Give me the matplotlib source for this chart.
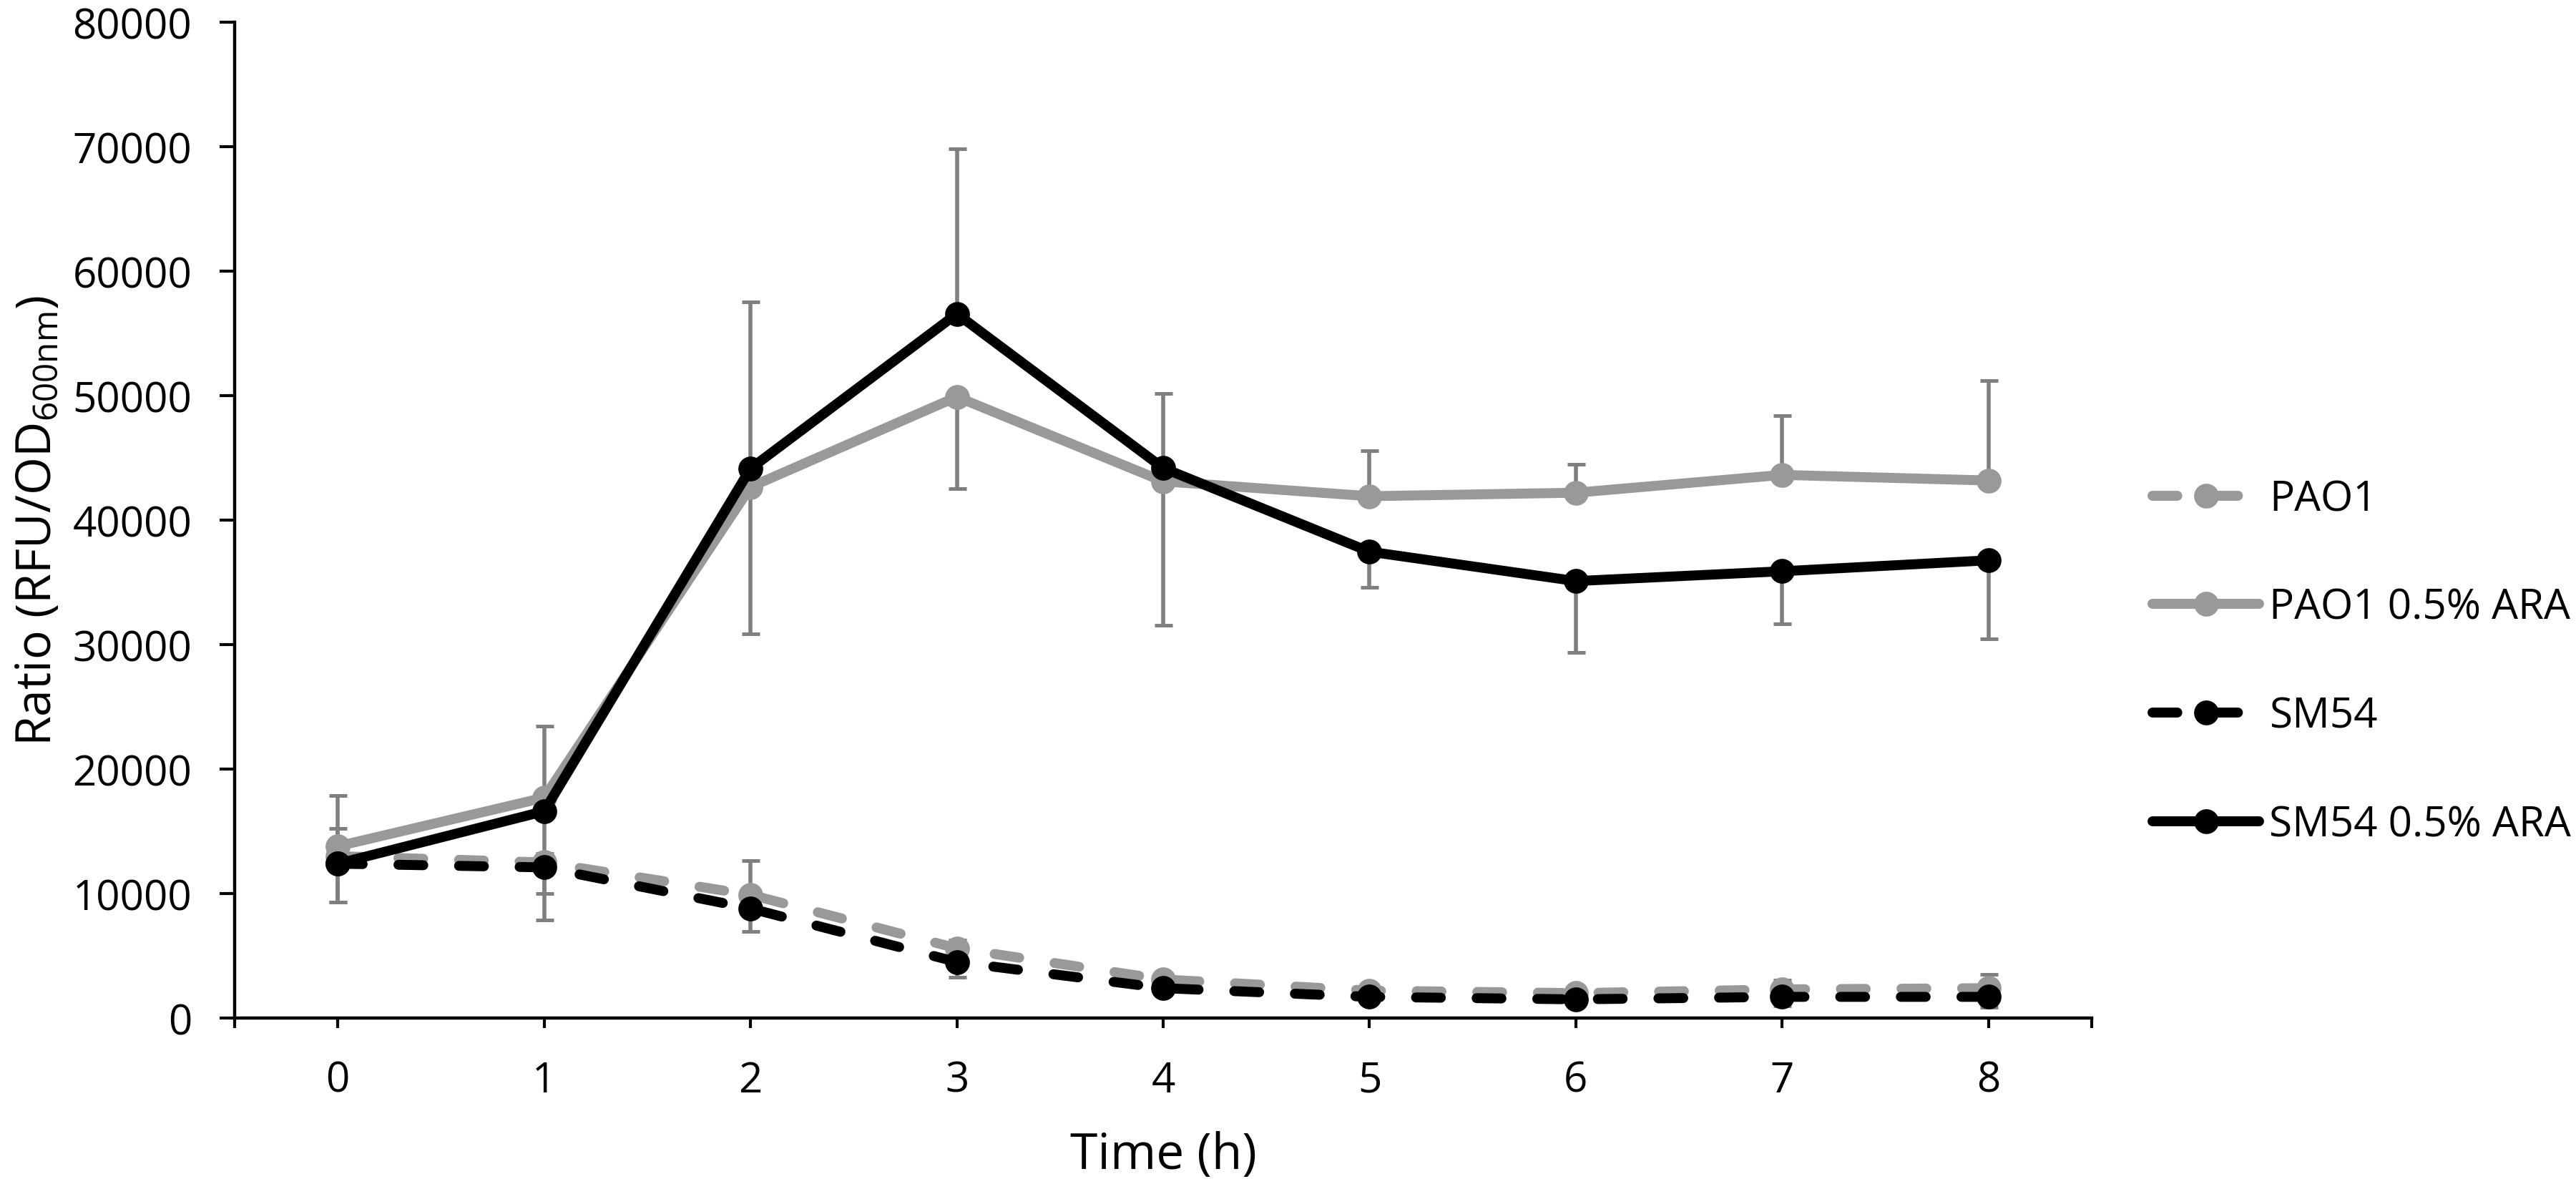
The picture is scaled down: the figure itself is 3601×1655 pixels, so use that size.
import numpy as np
import matplotlib
matplotlib.use("Agg")
import matplotlib.pyplot as plt

# time points (h)
time_h = [0, 1, 2, 3, 4, 5, 6, 7, 8]

# mean ratio RFU/OD600nm
pao1 = [13000, 12500, 9900, 5600, 3100, 2200, 2000, 2300, 2400]
pao1_ara = [13800, 17700, 42660, 49900, 43110, 41920, 42200, 43630, 43180]
sm54 = [12400, 12100, 8800, 4500, 2400, 1700, 1500, 1700, 1700]
sm54_ara = [12400, 16610, 44140, 56570, 44180, 37460, 35100, 35890, 36770]

# one-sided error bars (lower / upper)
pao1_err_lo = [0, 0, 0, 0, 0, 0, 0, 0, 0]
pao1_err_up = [2230, 700, 2740, 660, 400, 300, 300, 750, 1090]
pao1_ara_err_lo = [0, 0, 11820, 7370, 11560, 0, 0, 0, 0]
pao1_ara_err_up = [4090, 5770, 0, 0, 0, 3640, 2290, 4770, 8030]
sm54_err_lo = [3070, 4240, 1820, 1250, 500, 400, 400, 710, 860]
sm54_err_up = [0, 0, 0, 0, 0, 0, 0, 0, 0]
sm54_ara_err_lo = [3070, 6610, 0, 0, 0, 2860, 5740, 4220, 6330]
sm54_ara_err_up = [0, 0, 13360, 13240, 5980, 0, 0, 0, 0]

y_ticks = [0, 10000, 20000, 30000, 40000, 50000, 60000, 70000, 80000]

GREY = "#999999"
BLACK = "#000000"
ERR = "#7f7f7f"

plt.rcParams['font.family'] = ['Open Sans', 'DejaVu Sans']
plt.rcParams['mathtext.default'] = 'regular'


def draw_err(ax, x, y, lo, up):
    x = np.asarray(x, float)
    y = np.asarray(y, float)
    lo = np.asarray(lo, float)
    up = np.asarray(up, float)
    ax.vlines(x, y - lo, y + up, colors=ERR, linewidth=2.0, zorder=1)
    for ends, mask in ((y - lo, lo > 0), (y + up, up > 0)):
        ax.plot(x[mask], ends[mask], linestyle='none', marker='_',
                markersize=9, markeredgewidth=1.8, color=ERR, zorder=1)


fig = plt.figure(figsize=(18.005, 8.28), dpi=200)
ax = fig.add_axes([0.0911, 0.1401, 0.812 - 0.0911, 0.9807 - 0.1401])

draw_err(ax, time_h, pao1, pao1_err_lo, pao1_err_up)
draw_err(ax, time_h, pao1_ara, pao1_ara_err_lo, pao1_ara_err_up)
draw_err(ax, time_h, sm54, sm54_err_lo, sm54_err_up)
draw_err(ax, time_h, sm54_ara, sm54_ara_err_lo, sm54_ara_err_up)

lw = 5.0
ms = 12.5
dash = (2.5, 3.6)
ax.plot(time_h, pao1, color=GREY, lw=lw, dashes=dash, dash_capstyle='round',
        marker='o', ms=ms, mew=0, label='PAO1', zorder=3)
ax.plot(time_h, pao1_ara, color=GREY, lw=lw, solid_capstyle='round',
        solid_joinstyle='round', marker='o', ms=ms, mew=0,
        label='PAO1 0.5% ARA', zorder=3)
ax.plot(time_h, sm54, color=BLACK, lw=lw, dashes=dash, dash_capstyle='round',
        marker='o', ms=ms, mew=0, label='SM54', zorder=4)
ax.plot(time_h, sm54_ara, color=BLACK, lw=lw, solid_capstyle='round',
        solid_joinstyle='round', marker='o', ms=ms, mew=0,
        label='SM54 0.5% ARA', zorder=4)

ax.set_xlim(-0.5, 8.5)
ax.set_ylim(0, 80000)
ax.set_xticks(time_h)
ax.set_xticks([-0.5, 8.5], minor=True)
ax.set_yticks(y_ticks)
ax.set_yticklabels([str(v) for v in y_ticks])

for side in ('top', 'right'):
    ax.spines[side].set_visible(False)
for side in ('left', 'bottom'):
    ax.spines[side].set_linewidth(1.6)

ax.tick_params(axis='y', direction='out', length=7.5, width=1.5, pad=14, labelsize=21)
ax.tick_params(axis='x', which='both', direction='out', length=5, width=1.5, pad=16, labelsize=21)

ax.set_xlabel('Time (h)', fontsize=25)
ax.xaxis.set_label_coords(0.5, -0.113)
ax.set_ylabel(r'Ratio (RFU/OD$_{600nm}$)', fontsize=24.5)
ax.yaxis.set_label_coords(-0.093, 0.5)

ax.legend(loc='center left', bbox_to_anchor=(0.8356, 0.4405),
          bbox_transform=fig.transFigure, frameon=False, fontsize=21,
          borderpad=0, borderaxespad=0, handlelength=2.56,
          handletextpad=0.24, labelspacing=1.6)

fig.savefig('out.png', dpi=200)
